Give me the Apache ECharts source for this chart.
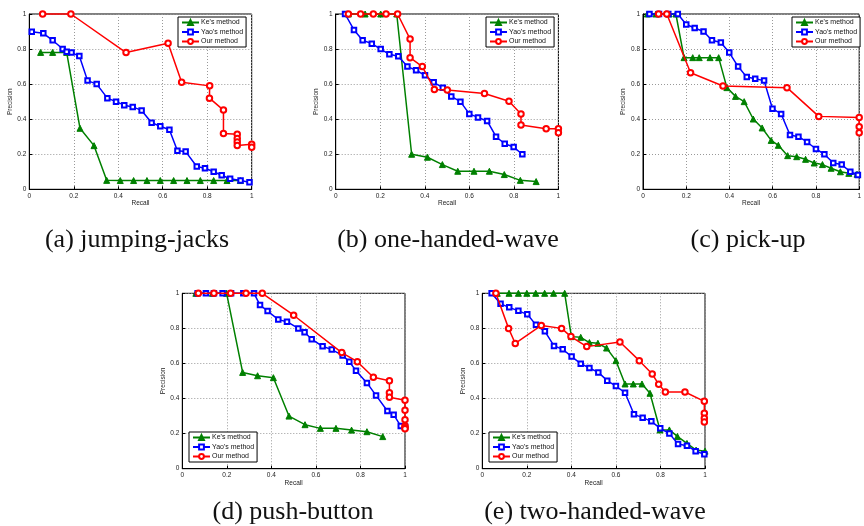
<!DOCTYPE html>
<html><head><meta charset="utf-8">
<script src="https://cdn.jsdelivr.net/npm/echarts@6/dist/echarts.min.js"></script>
<style>html,body{margin:0;padding:0;background:#fff}#c{width:864px;height:526px}</style>
</head><body><div id="c"></div>
<script>
// ---- data ----
const seriesNames = ["Ke's method", "Yao's method", "Our method"];
const captions = ["(a) jumping-jacks", "(b) one-handed-wave", "(c) pick-up", "(d) push-button", "(e) two-handed-wave"];
const xTicks = [0, 0.2, 0.4, 0.6, 0.8, 1];

const keA = [[0.051,0.781],[0.105,0.781],[0.168,0.781],[0.228,0.348],[0.291,0.249],[0.348,0.051],[0.409,0.05],[0.469,0.05],[0.529,0.05],[0.589,0.05],[0.649,0.05],[0.709,0.05],[0.769,0.05],[0.829,0.05],[0.889,0.05],[0.949,0.05]];
const yaoA = [[0.011,0.899],[0.063,0.89],[0.105,0.85],[0.15,0.8],[0.168,0.785],[0.19,0.78],[0.225,0.76],[0.262,0.62],[0.303,0.6],[0.351,0.52],[0.39,0.5],[0.427,0.48],[0.465,0.47],[0.505,0.45],[0.55,0.38],[0.589,0.36],[0.63,0.34],[0.666,0.22],[0.703,0.215],[0.753,0.13],[0.79,0.12],[0.829,0.1],[0.865,0.08],[0.903,0.06],[0.95,0.05],[0.99,0.04]];
const ourA = [[0.06,1],[0.187,1],[0.435,0.78],[0.624,0.833],[0.685,0.61],[0.811,0.59],[0.81,0.52],[0.873,0.452],[0.873,0.319],[0.935,0.314],[0.935,0.29],[0.935,0.27],[0.935,0.25],[1,0.257],[1,0.24]];

const keB = [[0.057,1],[0.132,1],[0.202,1],[0.274,1],[0.341,0.2],[0.412,0.183],[0.479,0.141],[0.548,0.103],[0.621,0.103],[0.69,0.103],[0.757,0.084],[0.829,0.051],[0.9,0.044]];
const yaoB = [[0.042,1],[0.082,0.909],[0.121,0.85],[0.162,0.831],[0.202,0.8],[0.241,0.77],[0.281,0.759],[0.322,0.7],[0.361,0.679],[0.401,0.65],[0.44,0.61],[0.481,0.58],[0.519,0.53],[0.56,0.5],[0.6,0.43],[0.639,0.41],[0.68,0.39],[0.72,0.3],[0.759,0.26],[0.799,0.241],[0.838,0.2]];
const ourB = [[0.057,1],[0.112,1],[0.169,1],[0.226,1],[0.278,1],[0.334,0.857],[0.334,0.751],[0.389,0.7],[0.443,0.57],[0.501,0.567],[0.668,0.546],[0.778,0.502],[0.832,0.43],[0.832,0.367],[0.945,0.346],[1,0.346],[1,0.323]];

const keC = [[0.02,1],[0.06,1],[0.12,1],[0.152,1],[0.19,0.751],[0.23,0.751],[0.26,0.751],[0.31,0.751],[0.35,0.751],[0.388,0.58],[0.428,0.53],[0.468,0.5],[0.51,0.401],[0.551,0.35],[0.593,0.279],[0.626,0.251],[0.669,0.192],[0.711,0.186],[0.752,0.171],[0.792,0.15],[0.83,0.141],[0.87,0.12],[0.913,0.1],[0.952,0.091],[0.99,0.086]];
const yaoC = [[0.03,1],[0.074,1],[0.117,1],[0.161,1],[0.2,0.94],[0.239,0.92],[0.28,0.9],[0.319,0.85],[0.36,0.838],[0.399,0.78],[0.44,0.7],[0.48,0.64],[0.519,0.631],[0.56,0.62],[0.599,0.46],[0.639,0.43],[0.68,0.31],[0.719,0.3],[0.759,0.27],[0.8,0.23],[0.839,0.2],[0.88,0.15],[0.919,0.141],[0.959,0.1],[0.994,0.082]];
const ourC = [[0.072,1],[0.11,1],[0.22,0.665],[0.37,0.589],[0.666,0.58],[0.813,0.416],[1,0.41],[1,0.357],[1,0.323]];

const keD = [[0.061,1],[0.135,1],[0.199,1],[0.271,0.549],[0.338,0.53],[0.409,0.519],[0.479,0.3],[0.551,0.251],[0.62,0.23],[0.69,0.23],[0.76,0.22],[0.829,0.211],[0.9,0.183]];
const yaoD = [[0.069,1],[0.106,1],[0.142,1],[0.181,1],[0.219,1],[0.274,1],[0.322,1],[0.349,0.933],[0.383,0.899],[0.431,0.85],[0.47,0.838],[0.521,0.8],[0.549,0.778],[0.581,0.738],[0.63,0.698],[0.671,0.679],[0.72,0.646],[0.75,0.61],[0.78,0.559],[0.829,0.489],[0.87,0.418],[0.921,0.329],[0.949,0.308],[0.981,0.243],[1,0.24]];
const ourD = [[0.072,1],[0.142,1],[0.217,1],[0.286,1],[0.359,1],[0.5,0.875],[0.716,0.662],[0.786,0.61],[0.858,0.521],[0.93,0.502],[0.93,0.433],[0.93,0.407],[1,0.39],[1,0.333],[1,0.279],[1,0.243],[1,0.234],[1,0.228]];

const keE = [[0.067,1],[0.12,1],[0.162,1],[0.2,1],[0.24,1],[0.28,1],[0.32,1],[0.37,1],[0.4,0.753],[0.442,0.749],[0.481,0.719],[0.519,0.715],[0.558,0.688],[0.6,0.616],[0.641,0.483],[0.678,0.483],[0.717,0.483],[0.753,0.43],[0.798,0.221],[0.84,0.221],[0.876,0.184],[0.919,0.144],[0.96,0.106],[1,0.1]];
const yaoE = [[0.042,1],[0.082,0.94],[0.121,0.92],[0.162,0.9],[0.202,0.88],[0.241,0.82],[0.281,0.783],[0.322,0.7],[0.361,0.681],[0.401,0.639],[0.442,0.599],[0.481,0.574],[0.521,0.549],[0.561,0.502],[0.6,0.471],[0.641,0.433],[0.681,0.31],[0.72,0.291],[0.759,0.27],[0.799,0.23],[0.84,0.2],[0.879,0.141],[0.919,0.131],[0.958,0.1],[0.997,0.082]];
const ourE = [[0.061,1],[0.118,0.8],[0.148,0.714],[0.265,0.817],[0.356,0.8],[0.398,0.753],[0.469,0.696],[0.618,0.722],[0.705,0.616],[0.763,0.54],[0.792,0.481],[0.822,0.437],[0.91,0.437],[0.997,0.384],[0.997,0.316],[0.997,0.287],[0.997,0.266]];

const panels = [[keA, yaoA, ourA], [keB, yaoB, ourB], [keC, yaoC, ourC], [keD, yaoD, ourD], [keE, yaoE, ourE]];

// ---- layout / style ----
const gridPos = [
  {left: 29.3, top: 14, width: 222.4, height: 175.3},
  {left: 335.7, top: 14, width: 222.7, height: 175.3},
  {left: 643, top: 14, width: 222.3, height: 175.3},
  {left: 182.3, top: 293.3, width: 222.7, height: 175.4},
  {left: 482.3, top: 293.3, width: 222.7, height: 175.4}
];
const legendPos = [
  {left: 178, top: 17}, {left: 486, top: 17}, {left: 792, top: 17},
  {left: 189, top: 432}, {left: 489, top: 432}
];
const captionPos = [[137, 240], [448, 240], [748, 240], [293, 512], [595, 512]];
const colors = ['#008000', '#0000ff', '#ff0000'];
const symbols = ['triangle', 'emptyRect', 'emptyCircle'];
const symbolSizes = [6, 4.5, 5.5];
const SANS = '"Liberation Sans", Arial, sans-serif';

const option = {
  animation: false,
  backgroundColor: '#fff',
  grid: gridPos.map(g => Object.assign({show: true, borderColor: '#000', borderWidth: 1, backgroundColor: 'transparent', containLabel: false}, g)),
  xAxis: gridPos.map((g, i) => ({
    type: 'value', gridIndex: i, min: xTicks[0], max: xTicks[xTicks.length - 1], interval: 0.2,
    name: 'Recall', nameLocation: 'middle', nameGap: 10,
    nameTextStyle: {fontSize: 6.5, fontFamily: SANS, color: '#222'},
    axisLine: {show: true, lineStyle: {color: '#000', width: 1}},
    axisTick: {show: true, inside: true, length: 3, lineStyle: {color: '#000'}},
    axisLabel: {fontSize: 6.5, fontFamily: SANS, color: '#222', margin: 3},
    splitLine: {show: true, lineStyle: {color: '#999', type: [1, 2], width: 1}}
  })),
  yAxis: gridPos.map((g, i) => ({
    type: 'value', gridIndex: i, min: 0, max: 1, interval: 0.2,
    name: 'Precision', nameLocation: 'middle', nameGap: 14,
    nameTextStyle: {fontSize: 6.5, fontFamily: SANS, color: '#222'},
    axisLine: {show: true, lineStyle: {color: '#000', width: 1}},
    axisTick: {show: true, inside: true, length: 3, lineStyle: {color: '#000'}},
    axisLabel: {fontSize: 6.5, fontFamily: SANS, color: '#222', margin: 3},
    splitLine: {show: true, lineStyle: {color: '#999', type: [1, 2], width: 1}}
  })),
  legend: legendPos.map(p => Object.assign({
    orient: 'vertical', data: seriesNames,
    itemWidth: 17, itemHeight: 6, itemGap: 2.5, padding: [2, 3, 2, 3],
    borderColor: '#000', borderWidth: 1, backgroundColor: '#fff', borderRadius: 0,
    textStyle: {fontSize: 7, fontFamily: SANS, color: '#111', padding: [0, 0, 0, -3]},
    selectedMode: false
  }, p)),
  series: [],
  graphic: captions.map((t, i) => ({
    type: 'text', x: captionPos[i][0], y: captionPos[i][1],
    style: {text: t, font: '26px "Liberation Serif", "Times New Roman", serif', fill: '#111', textAlign: 'center', textVerticalAlign: 'middle'}
  }))
};

panels.forEach((sets, pi) => {
  sets.forEach((data, si) => {
    option.series.push({
      name: seriesNames[si], type: 'line', xAxisIndex: pi, yAxisIndex: pi,
      data: data, symbol: symbols[si], symbolSize: symbolSizes[si],
      color: colors[si],
      lineStyle: {color: colors[si], width: 1.5},
      itemStyle: {color: colors[si], borderColor: colors[si], borderWidth: 1},
      clip: false, z: 2 + si
    });
  });
});

const chart = echarts.init(document.getElementById('c'), null, {renderer: 'canvas'});
chart.setOption(option);
</script>
</body></html>
